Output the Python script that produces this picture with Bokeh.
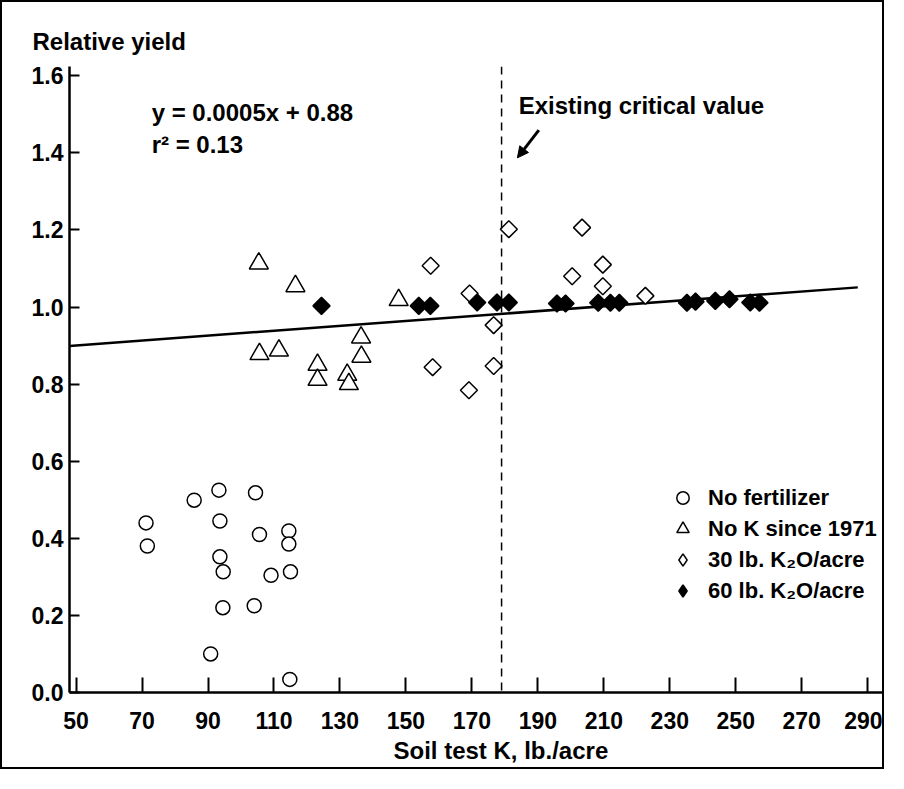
import math
from bokeh.plotting import figure
from bokeh.models import (Label, Title, Arrow, NormalHead, Legend, LegendItem,
                          FixedTicker, Range1d, Span, CustomJSTickFormatter)
from bokeh.embed import file_html
from bokeh.resources import INLINE

FONT = "Liberation Sans"

# ---- data ----
# No fertilizer
nofert_k = [71.2, 71.6, 85.8, 93.3, 93.6, 93.6, 94.6, 94.5, 90.8, 104.4, 105.6,
            104.0, 109.1, 114.5, 114.5, 115.0, 114.8]
nofert_y = [0.440, 0.380, 0.499, 0.525, 0.445, 0.352, 0.313, 0.220, 0.100, 0.518,
            0.410, 0.225, 0.304, 0.419, 0.385, 0.313, 0.034]
# No K since 1971
nok_k = [105.4, 116.5, 147.8, 105.6, 111.5, 123.2, 123.2, 132.2, 132.7, 136.4, 136.5]
nok_y = [1.113, 1.054, 1.018, 0.878, 0.887, 0.850, 0.811, 0.824, 0.800, 0.921, 0.871]
# 30 lb. K2O/acre
k30_k = [157.5, 169.3, 176.6, 158.1, 176.6, 169.1, 181.2, 203.4, 200.4, 209.7, 209.7, 222.6]
k30_y = [1.107, 1.035, 0.953, 0.844, 0.847, 0.784, 1.202, 1.206, 1.080, 1.110, 1.054, 1.029]
# 60 lb. K2O/acre
k60_k = [124.4, 153.9, 157.4, 171.6, 177.6, 181.2, 195.8, 198.4, 208.3, 212.0, 214.7,
         235.2, 237.8, 243.8, 248.1, 254.4, 257.2]
k60_y = [1.003, 1.003, 1.003, 1.012, 1.012, 1.012, 1.009, 1.009, 1.011, 1.011, 1.011,
         1.011, 1.014, 1.016, 1.020, 1.012, 1.011]

# regression line as drawn
fit_k = [48, 287]
fit_y = [0.899, 1.051]

critical_k = 179

x_ticks = [50, 70, 90, 110, 130, 150, 170, 190, 210, 230, 250, 270, 290]
y_ticks = [0.0, 0.2, 0.4, 0.6, 0.8, 1.0, 1.2, 1.4, 1.6]

series_labels = ["No fertilizer", "No K since 1971",
                 "30 lb. K\u2082O/acre", "60 lb. K\u2082O/acre"]

# ---- figure ----
p = figure(width=884, height=769, x_range=Range1d(48, 295.1), y_range=Range1d(0, 1.624),
           output_backend="svg", toolbar_location=None,
           min_border_left=67, min_border_right=2, min_border_top=64, min_border_bottom=79)
p.styles = {"border": "2px solid black"}
p.outline_line_color = None
p.xgrid.visible = False
p.ygrid.visible = False
p.background_fill_color = "white"
p.border_fill_color = "white"

# title as y axis caption
p.title.text = "Relative yield"
p.title.align = "left"
p.title.offset = -37
p.title.text_font = FONT
p.title.text_font_size = "24px"
p.title.text_font_style = "bold"
p.title.text_color = "black"
p.title.standoff = 23

for ax in (p.xaxis, p.yaxis):
    ax.axis_line_width = 2.5
    ax.axis_line_color = "black"
    ax.major_tick_line_width = 2
    ax.major_tick_line_color = "black"
    ax.minor_tick_line_color = None
    ax.major_tick_out = 0
    ax.major_label_text_font = FONT
    ax.major_label_text_font_size = "23px"
    ax.major_label_text_font_style = "bold"
    ax.major_label_text_color = "black"

p.xaxis.ticker = FixedTicker(ticks=x_ticks)
p.yaxis.ticker = FixedTicker(ticks=y_ticks)
p.xaxis.major_tick_in = 15
p.yaxis.major_tick_in = 10
p.xaxis.major_label_standoff = 19
p.yaxis.major_label_standoff = 6
p.yaxis.formatter = CustomJSTickFormatter(code="return tick.toFixed(1);")

p.add_layout(Title(text="Soil test K, lb./acre", align="left", offset=324,
                   text_font=FONT, text_font_size="24px", text_font_style="bold",
                   text_color="black", standoff=6), "below")

# regression line
p.line(fit_k, fit_y, line_color="black", line_width=2.5)

# data
r1 = p.scatter(nofert_k, nofert_y, marker="circle", size=14, fill_color="white",
               line_color="black", line_width=1.5)
r2 = p.scatter(nok_k, nok_y, marker="triangle", size=19, fill_color="white",
               line_color="black", line_width=1.5)
p.scatter(k30_k, k30_y, marker="square", angle=math.pi / 4, size=12,
          fill_color="white", line_color="black", line_width=1.5)
p.scatter(k60_k, k60_y, marker="square", angle=math.pi / 4, size=12,
          fill_color="black", line_color="black", line_width=1.5)

# legend-only keys for the diamond series (nothing drawn in the plot)
r3 = p.scatter([float("nan")], [float("nan")], marker="diamond", fill_color="white",
               line_color="black", line_width=1.5)
r4 = p.scatter([float("nan")], [float("nan")], marker="diamond", fill_color="black",
               line_color="black", line_width=1.5)

# critical value line
p.add_layout(Span(location=critical_k, dimension="height", line_color="black",
                  line_width=1.5, line_dash="8 6"))

# annotations
lbl_kw = dict(text_font=FONT, text_font_size="24px", text_font_style="bold",
              text_baseline="middle", text_color="black")
p.add_layout(Label(x=72.9, y=1.505, text="y = 0.0005x + 0.88", **lbl_kw))
p.add_layout(Label(x=72.9, y=1.422, text="r\u00b2 = 0.13", **lbl_kw))
p.add_layout(Label(x=184.2, y=1.523, text="Existing critical value", **lbl_kw))
p.add_layout(Arrow(x_start=190.3, y_start=1.459, x_end=183.8, y_end=1.387,
                   line_width=3, line_color="black",
                   end=NormalHead(size=11, fill_color="black", line_color="black")))

legend = Legend(items=[LegendItem(label=series_labels[0], renderers=[r1]),
                       LegendItem(label=series_labels[1], renderers=[r2]),
                       LegendItem(label=series_labels[2], renderers=[r3]),
                       LegendItem(label=series_labels[3], renderers=[r4])],
                location=(598, 86), glyph_width=31, glyph_height=31, label_height=31,
                label_standoff=10, spacing=0, padding=0, margin=0,
                border_line_color=None, background_fill_alpha=0,
                label_text_font=FONT, label_text_font_size="22px",
                label_text_font_style="bold", label_text_color="black")
p.add_layout(legend)

open("out.html", "w").write(file_html(p, INLINE))
